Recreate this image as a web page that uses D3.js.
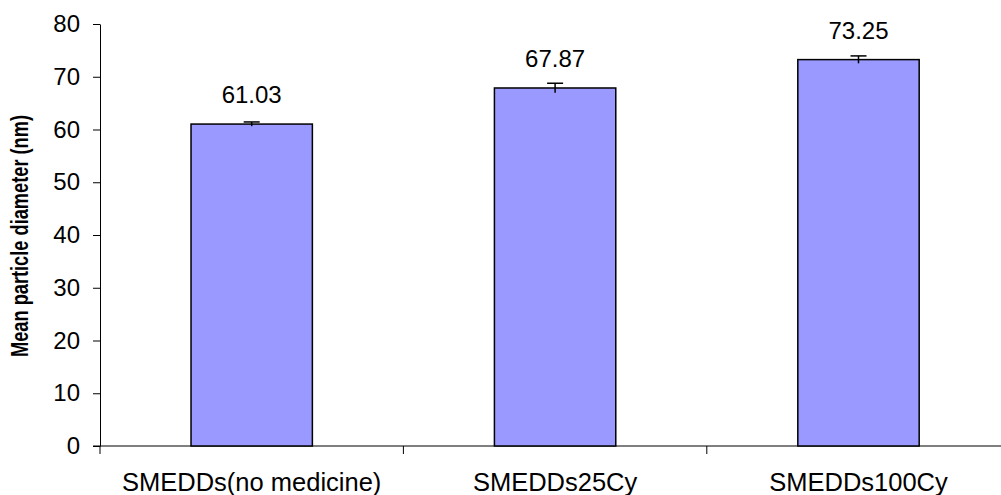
<!DOCTYPE html>
<html>
<head>
<meta charset="utf-8">
<script src="https://cdn.jsdelivr.net/npm/d3@7"></script>
<style>
  body { margin: 0; background: #fff; }
  svg { display: block; font-family: Arial, "Liberation Sans", sans-serif; }
</style>
</head>
<body>
<div id="chart"></div>
<script>
// chart data
const categories = ['SMEDDs(no medicine)', 'SMEDDs25Cy', 'SMEDDs100Cy'];
const means = [61.03, 67.87, 73.25];
const errors = [0.4, 0.9, 0.7];
const yTicks = [0, 10, 20, 30, 40, 50, 60, 70, 80];

const width = 1001, height = 495;
const plotLeft = 100, plotTop = 24, plotBottom = 446;
const catWidth = 303.4;

const svg = d3.select('#chart').append('svg')
  .attr('width', width)
  .attr('height', height);

const x = d3.scaleBand()
  .domain(categories)
  .range([plotLeft, plotLeft + catWidth * categories.length])
  .paddingInner(0.6)
  .paddingOuter(0.3);

const y = d3.scaleLinear().domain([0, 80]).range([plotBottom, plotTop]);

// y axis
const yAxis = svg.append('g')
  .attr('transform', `translate(${plotLeft},0)`)
  .call(d3.axisLeft(y).tickValues(yTicks).tickSize(7).tickSizeOuter(0).tickPadding(13));
yAxis.select('.domain').attr('stroke', '#000');
yAxis.selectAll('.tick line').attr('stroke', '#000');
yAxis.selectAll('.tick text')
  .attr('font-size', 24)
  .attr('fill', '#000')
  .attr('font-family', 'Arial, "Liberation Sans", sans-serif');

// x axis line + category boundary ticks
svg.append('line')
  .attr('x1', plotLeft - 7).attr('x2', width)
  .attr('y1', plotBottom).attr('y2', plotBottom)
  .attr('stroke', '#000');
d3.range(categories.length + 1).forEach(i => {
  const xx = plotLeft + i * catWidth;
  svg.append('line')
    .attr('x1', xx).attr('x2', xx)
    .attr('y1', plotBottom).attr('y2', plotBottom + 8)
    .attr('stroke', '#000');
});

// bars
const bars = svg.selectAll('g.bar')
  .data(categories)
  .join('g')
  .attr('class', 'bar');

bars.append('rect')
  .attr('x', d => x(d))
  .attr('y', (d, i) => y(means[i]))
  .attr('width', x.bandwidth())
  .attr('height', (d, i) => y(0) - y(means[i]))
  .attr('fill', '#9999FF')
  .attr('stroke', '#000')
  .attr('stroke-width', 1.5);

// error bars
bars.append('line')
  .attr('x1', d => x(d) + x.bandwidth() / 2)
  .attr('x2', d => x(d) + x.bandwidth() / 2)
  .attr('y1', (d, i) => y(means[i] + errors[i]))
  .attr('y2', (d, i) => y(means[i] - errors[i]))
  .attr('stroke', '#000')
  .attr('stroke-width', 1.5);
bars.append('line')
  .attr('x1', d => x(d) + x.bandwidth() / 2 - 8)
  .attr('x2', d => x(d) + x.bandwidth() / 2 + 8)
  .attr('y1', (d, i) => y(means[i] + errors[i]))
  .attr('y2', (d, i) => y(means[i] + errors[i]))
  .attr('stroke', '#000')
  .attr('stroke-width', 1.5);

// value labels
bars.append('text')
  .attr('x', d => x(d) + x.bandwidth() / 2)
  .attr('y', (d, i) => y(means[i]) - 21)
  .attr('text-anchor', 'middle')
  .attr('font-size', 24)
  .text((d, i) => means[i].toFixed(2));

// category labels
svg.selectAll('text.cat')
  .data(categories)
  .join('text')
  .attr('class', 'cat')
  .attr('x', d => x(d) + x.bandwidth() / 2)
  .attr('y', 491)
  .attr('text-anchor', 'middle')
  .attr('font-size', 25.5)
  .text(d => d);

// y axis title (reference glyphs look squeezed along their length)
svg.append('text')
  .attr('transform', `translate(28,236) scale(1,0.76) rotate(-90)`)
  .attr('text-anchor', 'middle')
  .attr('font-size', 24)
  .attr('font-weight', 'bold')
  .text('Mean particle diameter (nm)');
</script>
</body>
</html>
